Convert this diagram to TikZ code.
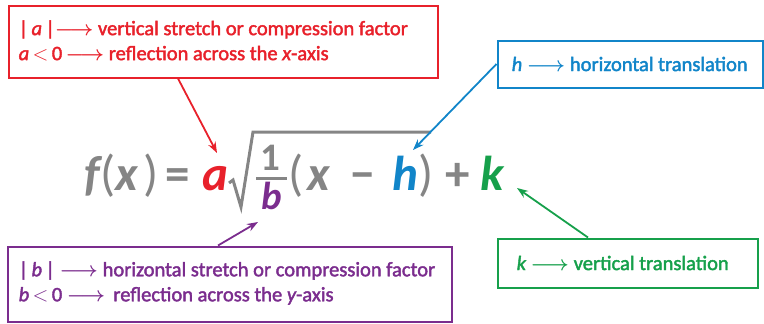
\documentclass[tikz,border=0pt]{standalone}
\usepackage{fontspec}
\setmainfont{Carlito}
\newfontfamily\lblfont[FakeBold=2]{Carlito}
\usetikzlibrary{arrows.meta,calc}
\definecolor{cred}{HTML}{E8212B}
\definecolor{cblue}{HTML}{1185C9}
\definecolor{cpurple}{HTML}{7B2D8E}
\definecolor{cgreen}{HTML}{16A04B}
\definecolor{cgray}{HTML}{858585}
\newcommand{\arr}{{\boldmath$\longrightarrow$}}
\newcommand{\lt}{$<$}
\begin{document}
\begin{tikzpicture}[x=1pt,y=-1pt,
  lblbox/.style={draw, line width=2pt, rectangle, inner sep=0pt, anchor=center},
  lbltxt/.style={anchor=west, align=left, inner sep=0pt,
    font=\lblfont\fontsize{20.5}{25}\selectfont},
  conn/.style={line width=1.8pt, -{Stealth[length=11pt,width=8pt]}},
  fm/.style={font=\fontsize{49}{49}\selectfont\bfseries\itshape, text=cgray, anchor=base, inner sep=0pt},
  fup/.style={font=\fontsize{49}{49}\selectfont\bfseries, text=cgray, anchor=base, inner sep=0pt},
  fpar/.style={font=\fontsize{50}{50}\selectfont, text=cgray, anchor=base, inner sep=0pt},
  ffr/.style={font=\fontsize{39}{39}\selectfont\bfseries, text=cgray, anchor=base, inner sep=0pt}
]
\useasboundingbox (0,0) rectangle (764,324);

% label boxes
\node[lblbox, cred, minimum width=429pt, minimum height=72pt] (redbox) at (223,41.5) {};
\node[lbltxt, text=cred] (redtxt) at ([xshift=11pt,yshift=1pt]redbox.west)
  {|\,{\itshape a}\,|\arr{} vertical stretch or compression factor\\
   {\itshape a}\,\lt\,0\,\arr{} reflection across the {\itshape x}-axis};
\node[lblbox, cblue, minimum width=265pt, minimum height=47pt] (bluebox) at (630,64) {};
\node[lbltxt, text=cblue] (bluetxt) at ([xshift=15pt]bluebox.west)
  {{\itshape h} \arr{} horizontal translation};
\node[lblbox, cpurple, minimum width=444pt, minimum height=75pt] (purplebox) at (229.5,284) {};
\node[lbltxt, text=cpurple] (purpletxt) at ([xshift=12pt,yshift=1pt]purplebox.west)
  {|\,{\itshape b}\,| \arr{} horizontal stretch or compression factor\\
   {\itshape b}\,\lt\,0 \arr{}\ \,reflection across the {\itshape y}-axis};
\node[lblbox, cgreen, minimum width=260pt, minimum height=49pt] (greenbox) at (627.5,263) {};
\node[lbltxt, text=cgreen] (greentxt) at ([xshift=20pt]greenbox.west)
  {{\itshape k} \arr{} vertical translation};

% formula
\node[fm] (ff) at (92,190) {f};
\node[fpar] (lp1) at (108,190) {(};
\node[fm] (fx1) at (127,190) {x};
\node[fpar] (rp1) at (151,190) {)};
\node[fup] (eq) at (178,190) {=};
\node[fm, text=cred] (fa) at (215,190) {a};
\node[ffr] (one) at (270,170) {1};
\node[ffr, font=\fontsize{39}{39}\selectfont\bfseries\itshape, text=cpurple] (fb) at (272,209) {b};
\node[fpar] (lp2) at (296,190) {(};
\node[fm] (fx2) at (319,190) {x};
\node[fup] (minus) at (363,190) {−};
\node[fm, text=cblue] (fh) at (405,190) {h};
\node[fpar] (rp2) at (426,190) {)};
\node[fup] (plus) at (458,190) {+};
\node[fm, text=cgreen] (fk) at (492,190) {k};
\draw[cgray, line width=3pt] (256,178) -- (287,178);
\draw[cgray, line width=3pt, line join=miter] (229,183) -- (233,180) -- (241,207) -- (253,132) -- (431,132);

% arrow tips
\coordinate (ta) at (217,153);
\coordinate (th) at (413,150);
\coordinate (tb) at (258,222);
\coordinate (tk) at (517,188);

\draw[conn, cred] ([xshift=-45pt]redbox.south) -- (ta);
\draw[conn, cblue] (bluebox.west) -- (th);
\draw[conn, cpurple] ([xshift=-11.5pt]purplebox.north) -- (tb);
\draw[conn, cgreen] ([xshift=-39.5pt]greenbox.north) -- (tk);
\end{tikzpicture}
\end{document}
